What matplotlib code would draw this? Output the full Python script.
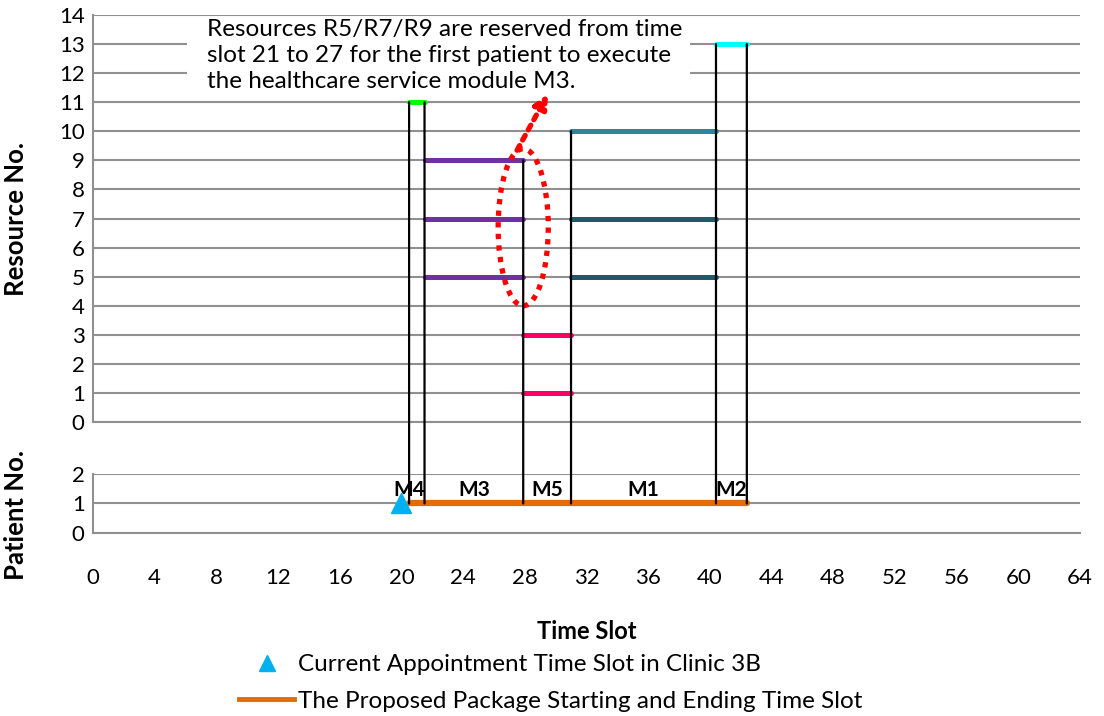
import matplotlib
matplotlib.use("Agg")
import matplotlib.pyplot as plt
from matplotlib.patches import Ellipse, Rectangle, ConnectionPatch
from matplotlib.lines import Line2D

plt.rcParams['font.family'] = ['Lato', 'DejaVu Sans']

# ---- data ----
modules = ['M4', 'M3', 'M5', 'M1', 'M2']
module_start = [20.5, 21.5, 27.9, 31.0, 40.4]
module_end = [21.5, 27.9, 31.0, 40.4, 42.4]
module_resources = [[11], [9, 7, 5], [3, 1], [10, 7, 5], [13]]
module_colors = [['#00FF00'], ['#7030A0'] * 3, ['#FF0066'] * 2,
                 ['#31849B', '#215968', '#215968'], ['#00FFFF']]
patient = 1
current_slot = 20
x_ticks = list(range(0, 65, 4))
res_ticks = list(range(0, 15))
pat_ticks = [0, 1, 2]
note = ("Resources R5/R7/R9 are reserved from time\n"
        "slot 21 to 27 for the first patient to execute\n"
        "the healthcare service module M3.")
# highlight: ellipse (center x, center y, width, height), arrow (start, tip)
ellipse_center = (27.9, 6.7)
ellipse_size = (3.25, 5.4)
arrow_start = (27.5, 9.35)
arrow_tip = (29.5, 11.28)

grid_c = '#909090'

fig = plt.figure(figsize=(11.04, 7.16), dpi=100)
ax = fig.add_axes([0.0842, 0.4106, 0.8940, 0.5684])
axp = fig.add_axes([0.0842, 0.2556, 0.8940, 0.0824])

for a, yt in ((ax, res_ticks), (axp, pat_ticks)):
    a.set_xlim(0, 64)
    a.set_ylim(yt[0], yt[-1])
    a.set_yticks(yt)
    a.set_xticks(x_ticks)
    a.grid(axis='y', color=grid_c, lw=1.5, zorder=0)
    a.set_axisbelow(True)
    for s in ('top', 'right'):
        a.spines[s].set_visible(False)
    a.spines['left'].set_color(grid_c)
    a.spines['bottom'].set_color(grid_c)
    a.spines['left'].set_linewidth(1.5)
    a.spines['bottom'].set_linewidth(1.5)
    a.tick_params(axis='y', length=0, pad=6, labelsize=16)
    a.tick_params(axis='x', length=0)

ax.set_xticklabels([])
axp.tick_params(axis='x', pad=25, labelsize=16)
axp.set_xlabel('Time Slot', fontsize=17, fontweight='bold', labelpad=23.5)
ax.set_ylabel('Resource No.', fontsize=18.5, fontweight='bold')
axp.set_ylabel('Patient No.', fontsize=18.5, fontweight='bold')
ax.yaxis.set_label_coords(-0.066, 0.5)
axp.yaxis.set_label_coords(-0.066, 0.3)

# resource bars
for s, e, rs, cs in zip(module_start, module_end, module_resources, module_colors):
    for r, c in zip(rs, cs):
        ax.plot([s, e], [r, r], color=c, lw=3.6, solid_capstyle='round', zorder=3)

# vertical boundaries linking resources to patient line
bounds = sorted(set(module_start) | set(module_end))
for b in bounds:
    tops = [max(rs) for s, e, rs in zip(module_start, module_end, module_resources)
            if s == b or e == b]
    con = ConnectionPatch(xyA=(b, max(tops)), coordsA=ax.transData,
                          xyB=(b, patient), coordsB=axp.transData,
                          color='black', lw=1.6, zorder=2)
    fig.add_artist(con)

# patient package line
axp.plot([module_start[0], module_end[-1]], [patient, patient], color='#E36C09',
         lw=4.5, solid_capstyle='round', zorder=3)
axp.plot([current_slot], [patient], marker='^', color='#00B0F0', ms=14,
         linestyle='none', zorder=4, clip_on=False)

for m, s, e in zip(modules, module_start, module_end):
    xc = s if (e - s) < 1.5 else (s + e) / 2
    axp.text(xc, patient + 0.45, m, ha='center', va='center', fontsize=15,
             fontweight='bold', zorder=5)

# note box
ax.add_patch(Rectangle((6.1, 11.1), 32.6, 2.83, facecolor='white',
                       edgecolor='none', zorder=1))
ax.text(7.4, 13.86, note, ha='left', va='top', fontsize=17.5, linespacing=1.3,
        zorder=6)

# highlight ellipse and arrow
ax.add_patch(Ellipse(ellipse_center, *ellipse_size, fill=False,
                     edgecolor='red', lw=3.8, linestyle=(0, (1, 1.2)), zorder=5))
ax.annotate('', xy=arrow_tip, xytext=arrow_start,
            arrowprops=dict(arrowstyle='-|>,head_length=0.8,head_width=0.4',
                            color='red', lw=3.8, linestyle=(0, (1, 1.2)),
                            shrinkA=0, shrinkB=0), zorder=6)

# legend
handles = [Line2D([], [], marker='^', color='#00B0F0', ms=12, linestyle='none'),
           Line2D([], [], color='#E36C09', lw=3.5)]
labels = ['Current Appointment Time Slot in Clinic 3B',
          'The Proposed Package Starting and Ending Time Slot']
fig.legend(handles, labels, loc='center', bbox_to_anchor=(0.499, 0.046),
           frameon=False, fontsize=17.5, handlelength=2.25, handletextpad=0.16,
           labelspacing=0.65)

fig.savefig('out.png', dpi=100)
